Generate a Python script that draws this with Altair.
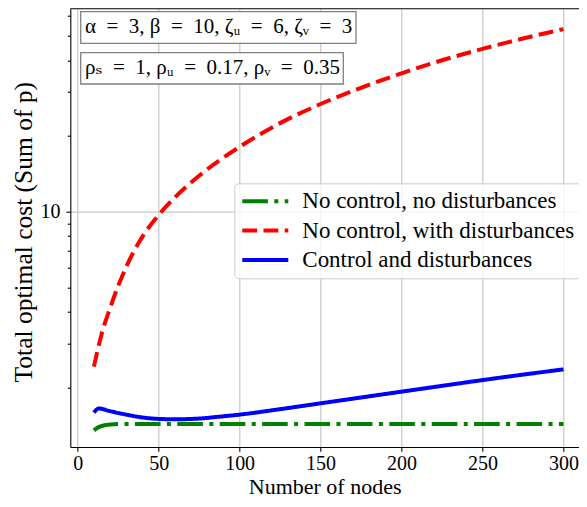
import altair as alt
import pandas as pd

# ---------------- data ----------------
SERIES = ["No control, no disturbances", "No control, with disturbances", "Control and disturbances"]
COLORS = ["green", "red", "blue"]

green_x = [10, 12, 14, 16, 18, 20, 25, 30, 50, 100, 150, 200, 250, 300]
green_y = [1.35, 1.38, 1.40, 1.413, 1.42, 1.425, 1.43, 1.43, 1.43, 1.43, 1.43, 1.43, 1.43, 1.43]

red_x = [10, 15, 20, 30, 40, 50, 60, 75, 100, 125, 150, 175, 200, 225, 250, 275, 300]
red_y = [2.42, 3.3, 4.14, 6.04, 7.96, 9.7, 11.4, 13.9, 18.1, 22.5, 26.8, 31.1, 35.5, 40.0, 44.4, 48.8, 53.2]

blue_x = [10, 13, 20, 30, 40, 50, 60, 75, 87, 100, 125, 150, 175, 200, 225, 250, 275, 300]
blue_y = [1.59, 1.65, 1.61, 1.56, 1.52, 1.50, 1.495, 1.505, 1.53, 1.56, 1.64, 1.73, 1.825, 1.925, 2.03, 2.14, 2.25, 2.36]

X_TICKS = [0, 50, 100, 150, 200, 250, 300]
Y_TICKS = [2, 3, 4, 5, 6, 7, 8, 9, 10, 20, 30, 40, 50, 60]
ANNOT = ["α\u2002=\u20023, β\u2002=\u200210, ζᵤ\u2002=\u20026, ζᵥ\u2002=\u20023",
         "ρₛ\u2002=\u20021, ρᵤ\u2002=\u20020.17, ρᵥ\u2002=\u20020.35"]

rows = []
for name, xs, ys in zip(SERIES, [green_x, red_x, blue_x], [green_y, red_y, blue_y]):
    for xv, yv in zip(xs, ys):
        rows.append({"series": name, "n": xv, "cost": yv})
df = pd.DataFrame(rows)

F = "Liberation Serif, DejaVu Serif, serif"
W, H = 508.7, 438.3

lines = alt.Chart(df).mark_line(strokeWidth=4, interpolate="monotone", clip=True, strokeCap="butt").encode(
    x=alt.X("n:Q", scale=alt.Scale(domain=[-4.57, 309.6], nice=False, zero=False),
            axis=alt.Axis(values=X_TICKS, tickSize=4.3, labelPadding=2, labelFlush=False,
                          title="Number of nodes", titleFontSize=22,
                          titleBaseline="alphabetic", titleY=46.4, format="d")),
    y=alt.Y("cost:Q", scale=alt.Scale(type="log", domain=[1.1599, 64.14], nice=False),
            axis=alt.Axis(values=Y_TICKS,
                          labelExpr="datum.value == 10 ? '10' : ''",
                          tickSize={"condition": {"test": "datum.value == 10", "value": 4.3}, "value": 3},
                          gridOpacity={"condition": {"test": "datum.value == 10", "value": 1}, "value": 0},
                          title="Total optimal cost (Sum of p)", titleFontSize=25.5, labelPadding=6,
                          titleBaseline="alphabetic", titleX=-38.5, titleY=223)),
    color=alt.Color("series:N", scale=alt.Scale(domain=SERIES, range=COLORS),
                    legend=alt.Legend(orient="none", legendX=164, legendY=174.6, title=None,
                                      symbolType="M-1,0H3.6", symbolSize=400, symbolStrokeWidth=4,
                                      labelFont=F, labelFontSize=23, labelLimit=600, labelOffset=38,
                                      labelColor="black", padding=6, rowPadding=5.3,
                                      fillColor="rgba(255,255,255,0.8)", strokeColor="#cccccc",
                                      cornerRadius=4)),
    strokeDash=alt.StrokeDash("series:N", scale=alt.Scale(domain=SERIES,
                              range=[[25.6, 6.4, 4, 6.4], [14.8, 6.4], [1, 0]]), title=None),
    order=alt.Order("n:Q"),
)

top_border = alt.Chart(pd.DataFrame({"a": [0]})).mark_rule(color="black", strokeWidth=1.1).encode(
    x=alt.value(0), x2=alt.value(W), y=alt.value(0))

def box(text, x0, x1, y0, y1, ty):
    d = pd.DataFrame({"t": [text]})
    r = alt.Chart(d).mark_rect(fill="white", stroke="#808080", strokeWidth=1.3).encode(
        x=alt.value(x0), x2=alt.value(x1), y=alt.value(y0), y2=alt.value(y1))
    t = alt.Chart(d).mark_text(align="left", baseline="middle", font=F, fontSize=21, color="black").encode(
        x=alt.value(x0 + 4.3), y=alt.value(ty), text="t:N")
    return r + t

chart = alt.layer(
    lines,
    top_border,
    box(ANNOT[0], 10.4, 285.7, 3, 34.6, 18.8),
    box(ANNOT[1], 10.4, 273, 44, 75.3, 59.7),
).properties(
    width=W, height=H,
    autosize=alt.AutoSizeParams(type="none"),
    padding={"left": 62.3, "top": 0.7, "right": 0, "bottom": 51.7},
).configure_view(stroke=None).configure_axis(
    domainColor="black", domainWidth=1.1, tickColor="black", tickWidth=1.1,
    labelFont=F, labelFontSize=20, labelColor="black",
    titleFont=F, titleColor="black", titleFontWeight="normal",
    gridColor="#c8c8c8", gridWidth=1.2,
)

chart.save("out.html", embed_options={"renderer": "svg", "actions": False})
